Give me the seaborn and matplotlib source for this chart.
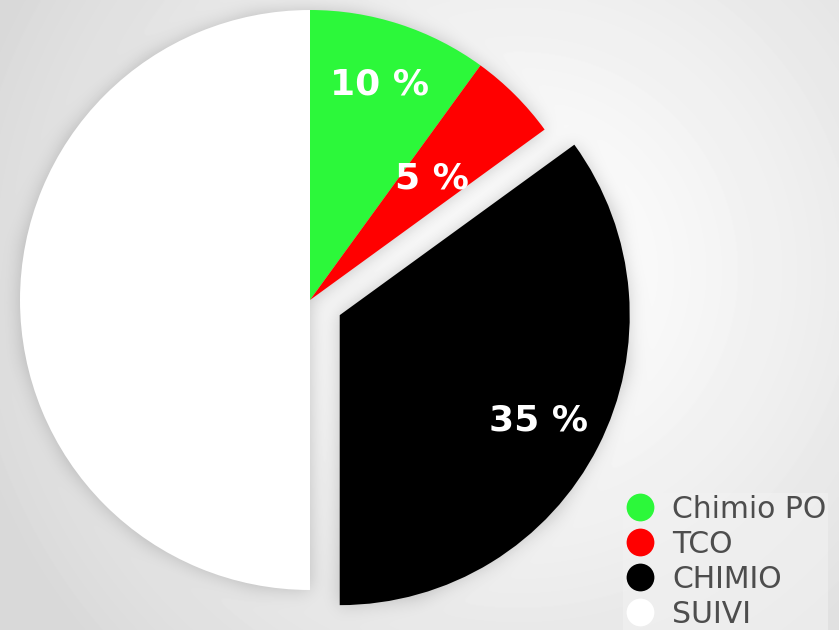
import numpy as np
import matplotlib
matplotlib.use("Agg")
import matplotlib.pyplot as plt
import seaborn as sns
from matplotlib.lines import Line2D

sns.set_theme(style="white")
plt.rcParams['font.family'] = ['DejaVu Sans']

labels = ["Chimio PO", "TCO", "CHIMIO", "SUIVI"]
values = [10, 5, 35, 50]
colors = ["#2cf83a", "#ff0000", "#000000", "#ffffff"]
explode = [0, 0, 0.115, 0]

W, H = 839, 630
fig = plt.figure(figsize=(W / 100, H / 100), dpi=100)
ax = fig.add_axes([0, 0, 1, 1])
R = 290.0
cx, cy = 310.0, 300.0
x0, x1 = -cx / R, (W - cx) / R
y0, y1 = (cy - H) / R, cy / R

wedges, texts, autotexts = ax.pie(
    values, colors=colors, explode=explode, startangle=90, counterclock=False,
    radius=1.0, center=(0, 0), autopct=lambda p: f"{p:.0f} %", pctdistance=0.78,
    wedgeprops=dict(linewidth=0), frame=True,
    textprops=dict(color="white", fontsize=26, fontweight="bold"),
)
ax.set_xlim(x0, x1)
ax.set_ylim(y0, y1)
ax.set_aspect("equal")
ax.axis("off")

# background: soft radial glow + blurred drop shadow of the pie wedges
xs = np.linspace(x0, x1, W)
ys = np.linspace(y0, y1, H)
X, Y = np.meshgrid(xs, ys)
gx, gy = 0.72, 0.1
D = np.sqrt((X - gx) ** 2 + (Y - gy) ** 2)
bg = 1.0 - 0.15 * np.clip(D / 2.0, 0, 1) ** 1.2
mask = np.zeros_like(X)
for w in wedges:
    path = w.get_path().transformed(w.get_patch_transform())
    inside = path.contains_points(np.column_stack([X.ravel(), Y.ravel()]))
    mask = np.maximum(mask, inside.reshape(X.shape).astype(float))

def blur1d(a, sigma, axis):
    k = np.arange(-3 * sigma, 3 * sigma + 1)
    g = np.exp(-0.5 * (k / sigma) ** 2)
    g /= g.sum()
    return np.apply_along_axis(lambda v: np.convolve(np.pad(v, len(k) // 2, mode="edge"), g, mode="valid"), axis, a)

sh = blur1d(blur1d(mask, 9, 0), 9, 1)
G = bg * (1 - 0.2 * sh)
ax.imshow(G, extent=[x0, x1, y0, y1], origin="lower", cmap="gray",
          vmin=0, vmax=1, zorder=0, aspect="auto", interpolation="bilinear")

for w in wedges:
    w.set_zorder(2)
for t in autotexts:
    t.set_zorder(5)
autotexts[3].set_visible(False)
# TCO label sits closer to center
x, y = autotexts[1].get_position()
autotexts[1].set_position((x * 0.76, y * 0.76))
x, y = autotexts[2].get_position()
autotexts[2].set_position((x * 0.99, y * 1.02))

handles = [Line2D([0], [0], marker="o", linestyle="none", markersize=20,
                  markerfacecolor=c, markeredgewidth=0) for c in colors]
leg = ax.legend(handles, labels, loc="lower right", bbox_to_anchor=(0.987, 0.0),
                bbox_transform=fig.transFigure, frameon=True, fontsize=21.5,
                labelcolor="#4d4d4d", handlelength=1.0, handletextpad=0.6,
                labelspacing=0.2, borderaxespad=0.0, borderpad=0.05,
                fancybox=False)
leg.get_frame().set_facecolor("#f2f2f2")
leg.get_frame().set_edgecolor("none")
leg.get_frame().set_alpha(0.6)
leg.set_zorder(6)

fig.savefig("out.png", dpi=100)
